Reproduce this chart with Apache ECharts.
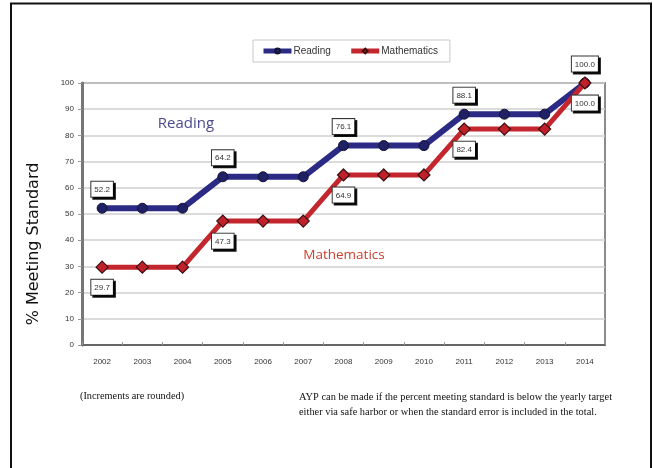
<!DOCTYPE html>
<html>
<head>
<meta charset="utf-8">
<script src="https://cdn.jsdelivr.net/npm/echarts@6/dist/echarts.min.js"></script>
<style>
html,body{margin:0;padding:0;background:#fff;}
#chart{width:653px;height:468px;}
</style>
</head>
<body>
<div id="chart"></div>
<script>
const years = ['2002','2003','2004','2005','2006','2007','2008','2009','2010','2011','2012','2013','2014'];
const reading = [52.2,52.2,52.2,64.2,64.2,64.2,76.1,76.1,76.1,88.1,88.1,88.1,100.0];
const mathematics = [29.7,29.7,29.7,47.3,47.3,47.3,64.9,64.9,64.9,82.4,82.4,82.4,100.0];
const labeledYears = ['2002','2005','2008','2011','2014'];
const yTicks = [0,10,20,30,40,50,60,70,80,90,100];

const boxLabel = {
  fontSize: 8, fontFamily: 'Arial, Liberation Sans, sans-serif', color: '#333',
  backgroundColor: '#fff', borderColor: '#333', borderWidth: 1,
  padding: [4, 3, 3, 3], shadowColor: 'rgba(0,0,0,0.9)', shadowOffsetX: 2, shadowOffsetY: 2, shadowBlur: 0,
  formatter: p => p.value.toFixed(1)
};

function buildData(values, pos) {
  return values.map((v, i) => {
    const show = labeledYears.indexOf(years[i]) >= 0;
    return { value: v, label: Object.assign({ show: show, position: pos, distance: 6 }, boxLabel) };
  });
}

const chart = echarts.init(document.getElementById('chart'));
chart.setOption({
  animation: false,
  backgroundColor: '#fff',
  grid: { left: 82, right: 48, top: 83, bottom: 123, show: true, borderColor: '#8c8c8c', borderWidth: 2 },
  legend: {
    left: 253, top: 40, orient: 'horizontal',
    padding: [6, 12, 6, 8], itemGap: 18, itemWidth: 28, itemHeight: 6,
    borderColor: '#c8c8c8', borderWidth: 1,
    lineStyle: { width: 5 },
    textStyle: { fontSize: 10, fontFamily: 'Arial, Liberation Sans, sans-serif', color: '#333', padding: [0,0,0,-3] },
    data: ['Reading', 'Mathematics']
  },
  xAxis: {
    type: 'category', data: years, boundaryGap: true,
    axisLine: { lineStyle: { color: '#666', width: 2 } },
    axisTick: { show: true, inside: true, length: 3, lineStyle: { color: '#999' } },
    axisLabel: { fontSize: 8, fontFamily: 'Arial, Liberation Sans, sans-serif', color: '#333', margin: 13 }
  },
  yAxis: {
    type: 'value', min: 0, max: 100, interval: 10,
    axisLine: { show: true, lineStyle: { color: '#777', width: 3 } },
    axisTick: { show: true, length: 4, lineStyle: { color: '#999' } },
    axisLabel: { fontSize: 8, fontFamily: 'Arial, Liberation Sans, sans-serif', color: '#333', margin: 8,
      formatter: v => yTicks.indexOf(v) >= 0 ? String(v) : '' },
    splitLine: { lineStyle: { color: '#cfcfcf', width: 1.5 } }
  },
  series: [
    {
      name: 'Reading', type: 'line', data: buildData(reading, 'top'),
      symbol: 'circle', symbolSize: 10,
      lineStyle: { color: '#2b2b85', width: 6 },
      itemStyle: { color: '#1f2066', borderColor: '#141433', borderWidth: 1 },
      z: 3
    },
    {
      name: 'Mathematics', type: 'line', data: buildData(mathematics, 'bottom'),
      symbol: 'diamond', symbolSize: 12,
      lineStyle: { color: '#c4262e', width: 5 },
      itemStyle: { color: '#c0202a', borderColor: '#3a1010', borderWidth: 1.2 },
      z: 4
    }
  ],
  graphic: [
    { type: 'rect', shape: { x: 11, y: 3.5, width: 640, height: 470 }, style: { fill: 'none', stroke: '#111', lineWidth: 2 }, z: 100 },
    { type: 'text', x: 34, y: 244, rotation: Math.PI / 2,
      style: { text: '% Meeting Standard', font: '16px "DejaVu Sans", sans-serif', fill: '#111', align: 'center', verticalAlign: 'middle' } },
    { type: 'text', x: 186, y: 124,
      style: { text: 'Reading', font: '15px "Open Sans", sans-serif', fill: '#4b4a8e', align: 'center', verticalAlign: 'middle' }, z: 10 },
    { type: 'text', x: 344, y: 255,
      style: { text: 'Mathematics', font: '13.5px "Open Sans", sans-serif', fill: '#c8412e', align: 'center', verticalAlign: 'middle' }, z: 10 },
    { type: 'text', x: 80, y: 396,
      style: { text: '(Increments are rounded)', font: '10.3px "Liberation Serif", serif', fill: '#111', verticalAlign: 'middle' } },
    { type: 'text', x: 299, y: 397,
      style: { text: 'AYP can be made if the percent meeting standard is below the yearly target', font: '10.4px "Liberation Serif", serif', fill: '#111', verticalAlign: 'middle' } },
    { type: 'text', x: 299, y: 412,
      style: { text: 'either via safe harbor or when the standard error is included in the total.', font: '10.4px "Liberation Serif", serif', fill: '#111', verticalAlign: 'middle' } }
  ]
});
</script>
</body>
</html>
